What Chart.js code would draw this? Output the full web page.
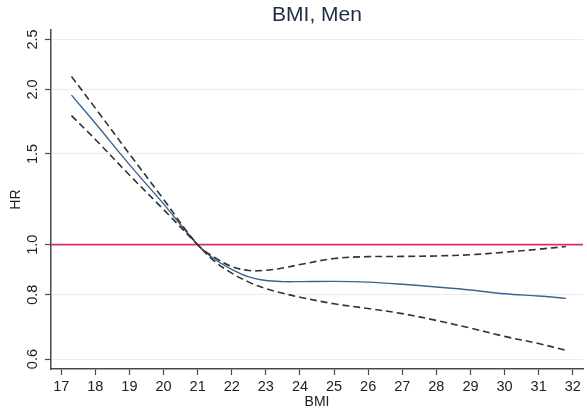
<!DOCTYPE html>
<html>
<head>
<meta charset="utf-8">
<script src="https://cdn.jsdelivr.net/npm/chart.js@4.4.1/dist/chart.umd.min.js"></script>
<style>
  html, body { margin: 0; padding: 0; background: #fff; }
  #wrap { width: 587px; height: 419px; }
</style>
</head>
<body>
<div id="wrap"><canvas id="chart" width="587" height="419"></canvas></div>
<script>
// 数据：BMI 与 HR（对数轴）
const BMI   = [17.3, 18, 19, 20, 21, 21.5, 22, 22.5, 23, 23.5, 24, 25, 26, 27, 28, 29, 30, 31, 31.8];
const HR    = [1.95, 1.72, 1.43, 1.20, 1.00, 0.937, 0.896, 0.866, 0.852, 0.848, 0.848, 0.849, 0.846, 0.838, 0.828, 0.817, 0.803, 0.795, 0.787];
const UPPER = [2.12, 1.84, 1.50, 1.225, 1.00, 0.945, 0.907, 0.891, 0.892, 0.901, 0.915, 0.940, 0.948, 0.949, 0.951, 0.956, 0.967, 0.980, 0.992];
const LOWER = [1.78, 1.60, 1.365, 1.17, 1.00, 0.928, 0.881, 0.846, 0.822, 0.805, 0.791, 0.768, 0.752, 0.735, 0.713, 0.689, 0.664, 0.643, 0.624];

const X_TICKS = [17, 18, 19, 20, 21, 22, 23, 24, 25, 26, 27, 28, 29, 30, 31, 32];
const Y_TICKS = [0.6, 0.8, 1.0, 1.5, 2.0, 2.5];
const Y_TICK_LABELS = ['0.6', '0.8', '1.0', '1.5', '2.0', '2.5'];
const REF_HR = 1.0;

// 坐标范围
const X_MIN = 16.7, X_MAX = 32.3;
const Y_MIN = 0.574, Y_MAX = 2.606;

const FONT = '"Liberation Sans", Arial, sans-serif';
const AXIS_COLOR = '#4a4a4a';
const TEXT_COLOR = '#222222';

const toPoints = (ys) => BMI.map((x, i) => ({ x: x, y: ys[i] }));

// 竖排的 y 轴刻度文字
const rotatedYLabels = {
    id: 'rotatedYLabels',
    afterDraw(chart) {
        const ctx = chart.ctx;
        const yScale = chart.scales.y;
        ctx.save();
        ctx.font = '14.5px ' + FONT;
        ctx.fillStyle = TEXT_COLOR;
        ctx.textAlign = 'center';
        ctx.textBaseline = 'middle';
        Y_TICKS.forEach((v, i) => {
            const py = yScale.getPixelForValue(v);
            ctx.save();
            ctx.translate(33, py);
            ctx.rotate(-Math.PI / 2);
            ctx.fillText(Y_TICK_LABELS[i], 0, 0);
            ctx.restore();
        });
        ctx.restore();
    }
};

const lineBase = {
    pointRadius: 0,
    fill: false,
    tension: 0.35
};

new Chart(document.getElementById('chart').getContext('2d'), {
    type: 'line',
    data: {
        datasets: [
            { ...lineBase, label: 'upper', data: toPoints(UPPER), borderColor: '#333333', borderWidth: 1.6, borderDash: [7, 4] },
            { ...lineBase, label: 'lower', data: toPoints(LOWER), borderColor: '#333333', borderWidth: 1.6, borderDash: [7, 4] },
            { ...lineBase, label: 'HR', data: toPoints(HR), borderColor: '#3a6592', borderWidth: 1.4 },
            { ...lineBase, label: 'ref', data: [{ x: X_MIN, y: REF_HR }, { x: X_MAX, y: REF_HR }], borderColor: '#d6335a', borderWidth: 1.8 }
        ]
    },
    options: {
        responsive: false,
        animation: false,
        devicePixelRatio: 1,
        layout: { padding: { left: 0, right: 4, top: 0, bottom: 0 } },
        plugins: {
            legend: { display: false },
            tooltip: { enabled: false },
            title: {
                display: true,
                text: 'BMI, Men',
                fullSize: false,
                color: '#1f2a44',
                font: { family: FONT, size: 21, weight: 'normal' },
                padding: { top: 3, bottom: 2 }
            }
        },
        scales: {
            x: {
                type: 'linear',
                min: X_MIN,
                max: X_MAX,
                afterBuildTicks: (scale) => { scale.ticks = X_TICKS.map(v => ({ value: v })); },
                afterFit: (scale) => { scale.height = 50; },
                grid: { drawOnChartArea: false, tickColor: AXIS_COLOR, tickLength: 6, tickWidth: 1.2 },
                border: { color: AXIS_COLOR, width: 1.5 },
                ticks: {
                    color: TEXT_COLOR,
                    font: { family: FONT, size: 14.5 },
                    padding: 3,
                    maxRotation: 0,
                    autoSkip: false,
                    callback: (v) => String(v)
                },
                title: {
                    display: true,
                    text: 'BMI',
                    color: TEXT_COLOR,
                    font: { family: FONT, size: 14 },
                    padding: { top: 0, bottom: 8 }
                }
            },
            y: {
                type: 'logarithmic',
                min: Y_MIN,
                max: Y_MAX,
                afterBuildTicks: (scale) => { scale.ticks = Y_TICKS.map(v => ({ value: v })); },
                afterFit: (scale) => { scale.width = 51; },
                grid: { color: '#e4eef0', lineWidth: 1, tickColor: AXIS_COLOR, tickLength: 6, tickWidth: 1.2 },
                border: { color: AXIS_COLOR, width: 1.5 },
                ticks: { display: false },
                title: {
                    display: true,
                    text: 'HR',
                    color: TEXT_COLOR,
                    font: { family: FONT, size: 14 },
                    padding: { top: 8, bottom: 0 }
                }
            }
        }
    },
    plugins: [rotatedYLabels]
});
</script>
</body>
</html>
